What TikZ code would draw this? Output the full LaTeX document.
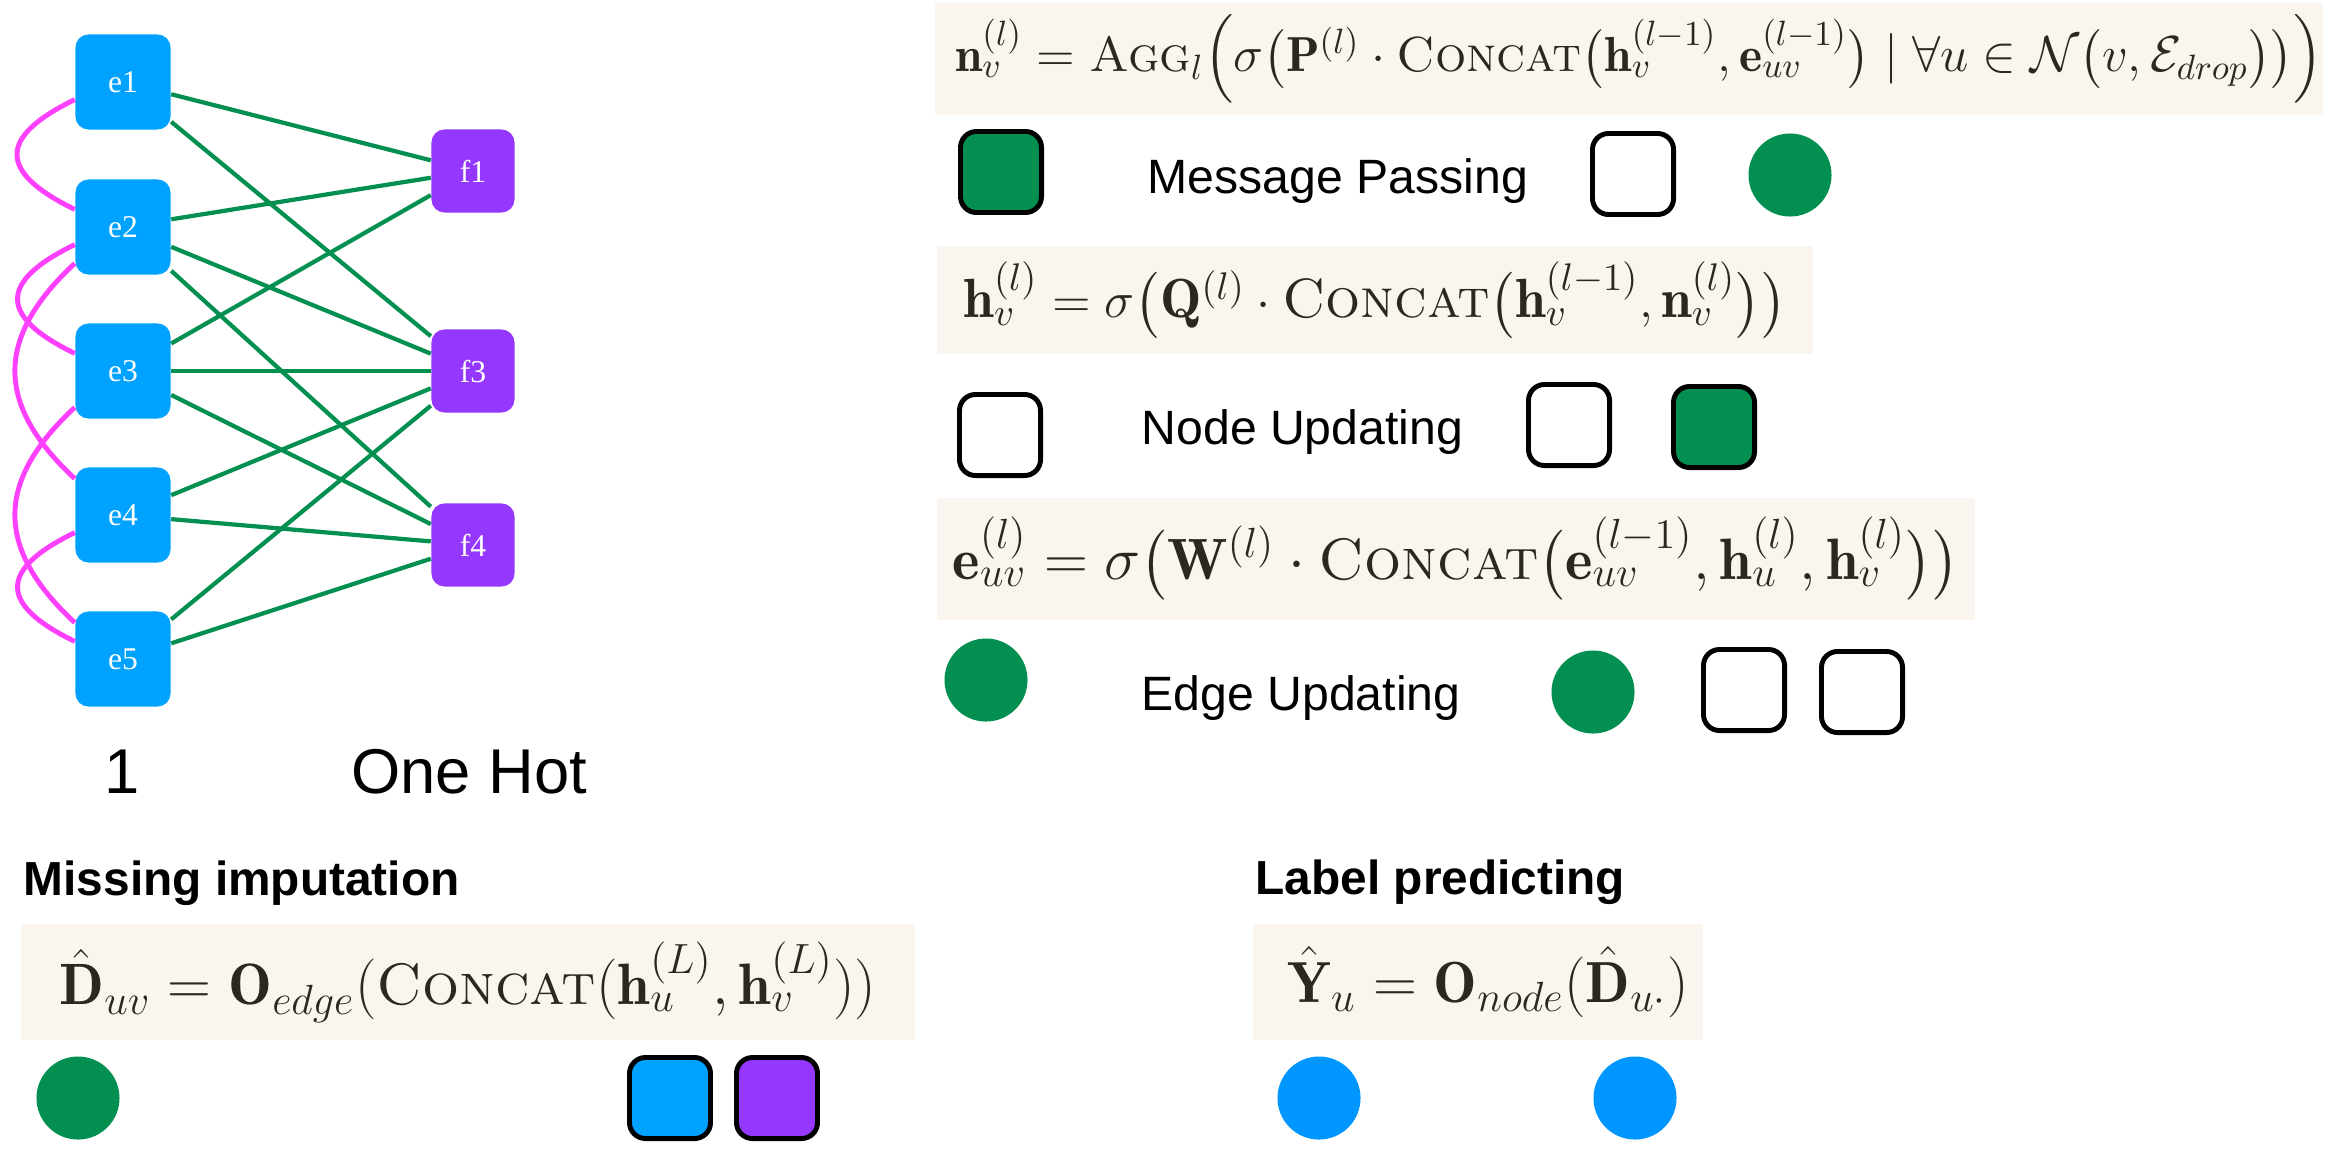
\documentclass[tikz,border=0pt]{standalone}
\usepackage{amsmath,amssymb}
\usepackage{fontspec}
\usepackage{tikz}
\newfontfamily\labelfont{Liberation Sans}
\newfontfamily\boxfont{Liberation Serif}
\definecolor{eblue}{HTML}{00A2FF}
\definecolor{fpurple}{HTML}{9437FF}
\definecolor{mpgreen}{HTML}{028F50}
\definecolor{dotblue}{HTML}{0096FF}
\definecolor{pinkedge}{HTML}{FF40FF}
\definecolor{cream}{HTML}{FAF5EF}
\definecolor{ink}{HTML}{2B2721}

\begin{document}
\begin{tikzpicture}[x=0.01cm, y=-0.01cm,
  enode/.style={rectangle, rounded corners=1.3mm, fill=eblue, text=white, minimum size=0.95cm, inner sep=0pt, font=\boxfont\fontsize{9}{10}\selectfont},
  fnode/.style={enode, fill=fpurple, minimum size=0.83cm},
  link/.style={draw=mpgreen, line width=1.2pt},
  pinklink/.style={draw=pinkedge, line width=1.4pt},
  fbox/.style={fill=cream, text=ink, inner sep=0pt},
  sq/.style={rectangle, rounded corners=1.6mm, draw=black, line width=1.4pt, minimum size=0.81cm, inner sep=0pt},
  dot/.style={circle, fill=mpgreen, minimum size=0.83cm, inner sep=0pt},
  lbl/.style={font=\labelfont\fontsize{13.7}{16}\selectfont, inner sep=0pt, anchor=base west},
  head/.style={font=\labelfont\bfseries\fontsize{13.6}{16}\selectfont, inner sep=0pt, anchor=base west}]
\useasboundingbox (0,0) rectangle (2328,1160);

% bipartite graph
\node[enode] (e1) at (123,82) {e1};
\node[enode] (e2) at (123,227) {e2};
\node[enode] (e3) at (123,371) {e3};
\node[enode] (e4) at (123,515) {e4};
\node[enode] (e5) at (123,659) {e5};
\node[fnode] (f1) at (473,171) {f1};
\node[fnode] (f3) at (473,371) {f3};
\node[fnode] (f4) at (473,545) {f4};
\foreach \a/\b in {e1/f1,e1/f3,e2/f1,e2/f3,e2/f4,e3/f1,e3/f3,e3/f4,e4/f3,e4/f4,e5/f3,e5/f4}
  \draw[link] (\a) -- (\b);
\draw[pinklink] (e1.200) to[out=206,in=154,looseness=2] (e2.160);
\draw[pinklink] (e2.200) to[out=206,in=154,looseness=2] (e3.160);
\draw[pinklink] (e4.200) to[out=206,in=154,looseness=2] (e5.160);
\draw[pinklink] (e2.217) to[out=223,in=137,looseness=1.3] (e4.143);
\draw[pinklink] (e3.217) to[out=223,in=137,looseness=1.3] (e5.143);
\node[font=\labelfont\fontsize{18}{20}\selectfont] (one) at (122,772) {1};
\node[font=\labelfont\fontsize{18}{20}\selectfont] (onehot) at (469,772) {One Hot};

% message passing
\node[fbox, minimum width=13.82cm, minimum height=1.12cm, font=\fontsize{14}{17}\selectfont] (mp) at (1629,59)
  {\hspace*{0.2cm}$\mathbf{n}_v^{(l)} = \textsc{Agg}_l\Bigl(\sigma\bigl(\mathbf{P}^{(l)} \cdot \textsc{Concat}\bigl(\mathbf{h}_v^{(l-1)}, \mathbf{e}_{uv}^{(l-1)}\bigr) \mid \forall u \in \mathcal{N}\bigl(v, \mathcal{E}_{drop}\bigr)\bigr)\Bigr)$};
\node[sq, fill=mpgreen] (mpa) at (1001,172) {};
\node[lbl] (mptxt) at (1147,193) {Message Passing};
\node[sq] (mpb) at (1633,174) {};
\node[dot] (mpc) at (1790,175) {};

% node updating
\node[fbox, minimum width=8.75cm, minimum height=1.08cm, font=\fontsize{15.7}{18}\selectfont] (nu) at (1375,300)
  {$\mathbf{h}_v^{(l)} = \sigma\bigl(\mathbf{Q}^{(l)} \cdot \textsc{Concat}\bigl(\mathbf{h}_v^{(l-1)}, \mathbf{n}_v^{(l)}\bigr)\bigr)$};
\node[sq] (nua) at (1000,435) {};
\node[lbl] (nutxt) at (1141,444) {Node Updating};
\node[sq] (nub) at (1569,425) {};
\node[sq, fill=mpgreen] (nuc) at (1714,427) {};

% edge updating
\node[fbox, minimum width=10.38cm, minimum height=1.22cm, font=\fontsize{16.6}{19}\selectfont] (eu) at (1456,559)
  {$\mathbf{e}_{uv}^{(l)} = \sigma\bigl(\mathbf{W}^{(l)} \cdot \textsc{Concat}\bigl(\mathbf{e}_{uv}^{(l-1)}, \mathbf{h}_u^{(l)}, \mathbf{h}_v^{(l)}\bigr)\bigr)$};
\node[dot] (eua) at (986,680) {};
\node[lbl] (eutxt) at (1141,710) {Edge Updating};
\node[dot] (eub) at (1593,692) {};
\node[sq] (euc) at (1744,690) {};
\node[sq] (eud) at (1862,692) {};

% missing imputation
\node[head] (mitxt) at (23,895) {Missing imputation};
\node[fbox, minimum width=8.94cm, minimum height=1.16cm, font=\fontsize{16.6}{19}\selectfont] (mi) at (468,982)
  {$\hat{\mathbf{D}}_{uv} = \mathbf{O}_{edge}(\textsc{Concat}(\mathbf{h}_u^{(L)}, \mathbf{h}_v^{(L)}))$};
\node[dot] (mia) at (78,1098) {};
\node[sq, fill=eblue] (mib) at (670,1098) {};
\node[sq, fill=fpurple] (mic) at (777,1098) {};

% label predicting
\node[head] (lptxt) at (1255,894) {Label predicting};
\node[fbox, minimum width=4.49cm, minimum height=1.15cm, font=\fontsize{16.5}{19}\selectfont] (lp) at (1478,982)
  {\hspace*{0.2cm}$\hat{\mathbf{Y}}_u = \mathbf{O}_{node}(\hat{\mathbf{D}}_{u\cdot})$};
\node[dot, fill=dotblue] (lpa) at (1319,1098) {};
\node[dot, fill=dotblue] (lpb) at (1635,1098) {};
\end{tikzpicture}
\end{document}
